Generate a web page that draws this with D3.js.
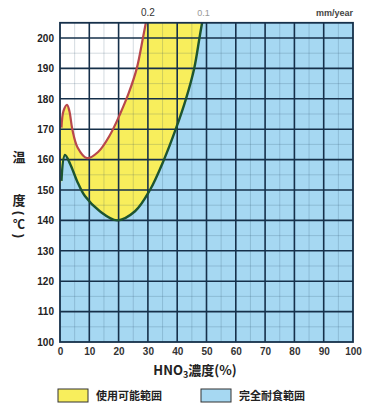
<!DOCTYPE html>
<html><head><meta charset="utf-8">
<script src="https://cdn.jsdelivr.net/npm/d3@7"></script>
<style>body{margin:0;background:#fff;}svg{display:block;font-family:"Liberation Sans",Arial,sans-serif;}</style>
</head><body>
<svg id="c" width="378" height="405"></svg>
<script>
// Data
const yTicks = [100,110,120,130,140,150,160,170,180,190,200];
const xTicks = [0,10,20,30,40,50,60,70,80,90,100];
// red curve: 0.2 mm/year iso-corrosion line
const redX = [0.5, 1.2, 2.4, 3.2, 4.2, 6, 9.2, 13, 17, 20.5, 23.5, 26.2, 28.3, 29.3];
const redY = [170.5, 176, 178, 176, 170, 164, 160.5, 162.5, 168, 175, 182, 190, 200, 205];
// green curve: 0.1 mm/year iso-corrosion line
const greenX = [0.5, 1.7, 3.5, 5.8, 8.5, 13.6, 19.5, 25.6, 30.7, 35.5, 39.5, 43, 45.8, 47.6, 48.5];
const greenY = [153, 161.5, 158.5, 153, 148, 143, 140, 143, 150, 160, 170, 180, 190, 200, 205];
const legendLabels = ["使用可能範囲", "完全耐食範囲"];
const isoLabels = ["0.2", "0.1"];

const svg = d3.select("#c");
const x = d3.scaleLinear().domain([0,100]).range([60,353]);
const y = d3.scaleLinear().domain([100,200]).range([342,38]);
const yTop = 205;

const blue = "#a6d8f2", yellow = "#f8ee5c";
svg.append("rect").attr("x",x(0)).attr("y",y(yTop)).attr("width",x(100)-x(0)).attr("height",y(100)-y(yTop)).attr("fill",blue);

const gPts = greenX.map((d,i)=>[d,greenY[i]]);
const rPts = redX.map((d,i)=>[d,redY[i]]);
const line = d3.line().x(d=>x(d[0])).y(d=>y(d[1])).curve(d3.curveCatmullRom.alpha(0.5));

// yellow area above green
const yellowPts = [[0,greenY[0]-2], ...gPts];
svg.append("path").attr("d", line(yellowPts) + `L${x(greenX[greenX.length-1])},${y(yTop)}L${x(0)},${y(yTop)}Z`).attr("fill",yellow);
// white area above red
const redPts = [[0,redY[0]-1], ...rPts];
svg.append("path").attr("d", line(redPts) + `L${x(redX[redX.length-1])},${y(yTop)}L${x(0)},${y(yTop)}Z`).attr("fill","#fff");

// minor grid
const minor = d3.range(5,100,10);
svg.append("g").selectAll("line").data(minor).join("line")
  .attr("x1",d=>x(d)).attr("x2",d=>x(d)).attr("y1",y(yTop)).attr("y2",y(100))
  .attr("stroke","#2a4a66").attr("stroke-opacity",0.25).attr("stroke-width",0.8);
svg.append("g").selectAll("line").data(d3.range(105,205,10)).join("line")
  .attr("x1",x(0)).attr("x2",x(100)).attr("y1",d=>y(d)).attr("y2",d=>y(d))
  .attr("stroke","#2a4a66").attr("stroke-opacity",0.25).attr("stroke-width",0.8);
// major grid
svg.append("g").selectAll("line").data(xTicks.slice(1,10)).join("line")
  .attr("x1",d=>x(d)).attr("x2",d=>x(d)).attr("y1",y(yTop)).attr("y2",y(100))
  .attr("stroke","#16304a").attr("stroke-width",1.6);
svg.append("g").selectAll("line").data(yTicks.slice(1)).join("line")
  .attr("x1",x(0)).attr("x2",x(100)).attr("y1",d=>y(d)).attr("y2",d=>y(d))
  .attr("stroke","#16304a").attr("stroke-width",1.6);

// curves
svg.append("path").attr("d",line(rPts)).attr("fill","none").attr("stroke","#b8484c").attr("stroke-width",2.2);
svg.append("path").attr("d",line(gPts)).attr("fill","none").attr("stroke","#1d5530").attr("stroke-width",2.4);

// frame
svg.append("rect").attr("x",x(0)).attr("y",y(yTop)).attr("width",x(100)-x(0)).attr("height",y(100)-y(yTop))
  .attr("fill","none").attr("stroke","#16304a").attr("stroke-width",1.8);

// axes
const yAxis = d3.axisLeft(y).tickValues(yTicks).tickSize(0).tickPadding(6);
const ya = svg.append("g").attr("transform",`translate(${x(0)},0)`).call(yAxis);
ya.select(".domain").remove();
ya.selectAll("text").attr("font-size",10).attr("font-weight","bold").attr("fill","#222");
const xAxis = d3.axisBottom(x).tickValues(xTicks).tickSize(0).tickPadding(6);
const xa = svg.append("g").attr("transform",`translate(0,${y(100)})`).call(xAxis);
xa.select(".domain").remove();
xa.selectAll("text").attr("font-size",10).attr("font-weight","bold").attr("fill","#333");

// iso labels
svg.append("text").attr("x",x(30)).attr("y",16).attr("text-anchor","middle").attr("font-size",10).attr("fill","#333").text(isoLabels[0]);
svg.append("text").attr("x",x(49)).attr("y",16).attr("text-anchor","middle").attr("font-size",9).attr("fill","#999").text(isoLabels[1]);
svg.append("text").attr("x",x(100)).attr("y",16).attr("text-anchor","end").attr("font-size",9).attr("font-weight","bold").attr("fill","#444").text("mm/year");

// y title
const cjk = '"Noto Sans CJK JP","Noto Sans CJK SC",sans-serif';
svg.append("text").attr("x",19).attr("y",162).attr("text-anchor","middle").attr("font-family",cjk).attr("font-weight","bold").attr("font-size",13).attr("fill","#222").text("温");
svg.append("text").attr("x",19).attr("y",205).attr("text-anchor","middle").attr("font-family",cjk).attr("font-weight","bold").attr("font-size",13).attr("fill","#222").text("度");
svg.append("text").attr("transform","translate(19,213) rotate(90)").attr("text-anchor","middle").attr("dominant-baseline","central").attr("font-weight","bold").attr("font-size",12).attr("fill","#222").text("(");
svg.append("text").attr("x",19).attr("y",229).attr("text-anchor","middle").attr("font-family",cjk).attr("font-weight","bold").attr("font-size",12).attr("fill","#222").text("℃");
svg.append("text").attr("transform","translate(19,236) rotate(90)").attr("text-anchor","middle").attr("dominant-baseline","central").attr("font-weight","bold").attr("font-size",12).attr("fill","#222").text(")");

// x title
const xt = svg.append("text").attr("x",195).attr("y",375).attr("text-anchor","middle").attr("font-family",cjk).attr("font-weight","bold").attr("font-size",13).attr("fill","#222");
xt.append("tspan").text("HNO");
xt.append("tspan").attr("font-size",9).attr("dy",3).text("3");
xt.append("tspan").attr("dy",-3).text("濃度(%)");

// legend
const lg = [[58,yellow,legendLabels[0]],[201,blue,legendLabels[1]]];
lg.forEach(([lx,col,lab])=>{
  svg.append("rect").attr("x",lx).attr("y",389).attr("width",30).attr("height",13).attr("fill",col).attr("stroke","#333").attr("stroke-width",1);
  svg.append("text").attr("x",lx+38).attr("y",400).attr("font-family",cjk).attr("font-weight","bold").attr("font-size",11).attr("fill","#222").text(lab);
});
</script>
</body></html>
